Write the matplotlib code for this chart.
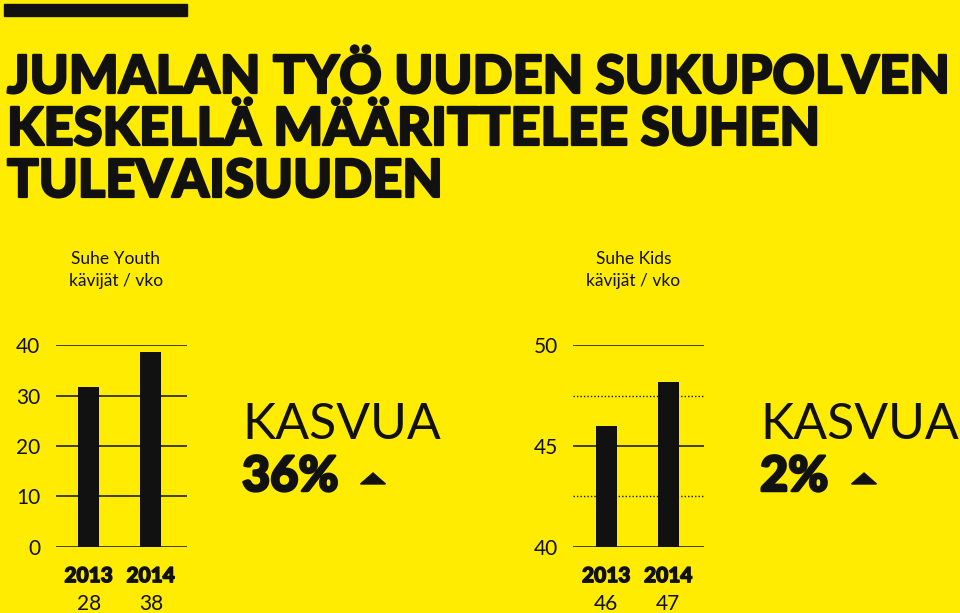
import matplotlib
matplotlib.use("Agg")
import matplotlib.pyplot as plt
import matplotlib.patheffects as pe
from matplotlib.patches import Rectangle, Polygon

# data
years = ["2013", "2014"]
youth_bars = [31.8, 38.7]       # bar heights as drawn
youth_labels = ["28", "38"]     # numbers printed under the years
kids_bars = [46.0, 48.2]
kids_labels = ["46", "47"]
youth_ticks = [0, 10, 20, 30, 40]
kids_ticks = [40, 45, 50]
kids_minor = [42.5, 47.5]

title_lines = ["JUMALAN TYÖ UUDEN SUKUPOLVEN",
               "KESKELLÄ MÄÄRITTELEE SUHEN",
               "TULEVAISUUDEN"]

BG = "#FFEC00"
INK = "#111111"
W, H = 960, 613

fig = plt.figure(figsize=(W / 100, H / 100), dpi=100, facecolor=BG)


def fx(x):
    return x / W


def fy(y):
    return 1 - y / H


def heavy(w):
    return [pe.withStroke(linewidth=w, foreground=INK)]


# black strip at the top
fig.patches.append(Rectangle((fx(4), fy(16)), fx(183), 12 / H,
                             transform=fig.transFigure, color=INK))

for i, line in enumerate(title_lines):
    fig.text(fx(7), fy(93 + i * 52), line, fontsize=37.8, family="Lato",
             fontweight="black", color=INK, va="baseline", ha="left",
             path_effects=heavy(1.6))


def small_chart(left, ticks, bars, labels, minor, title):
    ax = fig.add_axes([fx(left), fy(546.7), fx(131), 201.4 / H])
    ax.patch.set_alpha(0)
    x = range(len(years))
    ax.bar(x, [b - ticks[0] for b in bars], bottom=ticks[0], width=0.334,
           color=INK, zorder=3)
    for t in ticks:
        ax.axhline(t, color=INK, lw=1.1, zorder=1)
    for t in minor:
        ax.axhline(t, color=INK, lw=1.0, ls=(0, (1, 1.5)), zorder=1)
    ax.set_xlim(-0.532, 1.58)
    ax.set_ylim(ticks[0], ticks[-1])
    ax.set_yticks(ticks)
    ax.set_yticklabels([str(t) for t in ticks], fontsize=15, family="Lato",
                       color=INK)
    ax.tick_params(axis="y", length=0, pad=11)
    ax.set_xticks([])
    for s in ax.spines.values():
        s.set_visible(False)
    for xi, yr, lab in zip(x, years, labels):
        ax.annotate(yr, (xi, ticks[0]), xytext=(0, -29),
                    textcoords="offset pixels", ha="center", va="center",
                    fontsize=15, family="Lato", fontweight="black",
                    color=INK, path_effects=heavy(1.0))
        ax.annotate(lab, (xi, ticks[0]), xytext=(0, -57),
                    textcoords="offset pixels", ha="center", va="center",
                    fontsize=15, family="Lato", color=INK)
    fig.text(fx(left + 60), fy(270), title, fontsize=12.5, family="Lato",
             color=INK, ha="center", va="center", linespacing=1.45)
    return ax


small_chart(55.7, youth_ticks, youth_bars, youth_labels, [],
            "Suhe Youth\nkävijät / vko")
small_chart(573.3, kids_ticks, kids_bars, kids_labels, kids_minor,
            "Suhe Kids\nkävijät / vko")


def growth(left, pct, tri_x):
    fig.text(fx(left), fy(439), "KASVUA", fontsize=36, family="Lato",
             fontweight="normal", color=INK, va="baseline")
    fig.text(fx(left), fy(491), pct, fontsize=35, family="Lato",
             fontweight="black", color=INK, va="baseline",
             path_effects=heavy(1.8))
    tri = Polygon([(fx(tri_x - 12.5), fy(484)), (fx(tri_x + 12.5), fy(484)),
                   (fx(tri_x), fy(473))], closed=True,
                  transform=fig.transFigure, color=INK)
    fig.patches.append(tri)


growth(242, "36%", 373)
growth(760, "2%", 864)

fig.savefig("out.png", dpi=100, facecolor=BG)
